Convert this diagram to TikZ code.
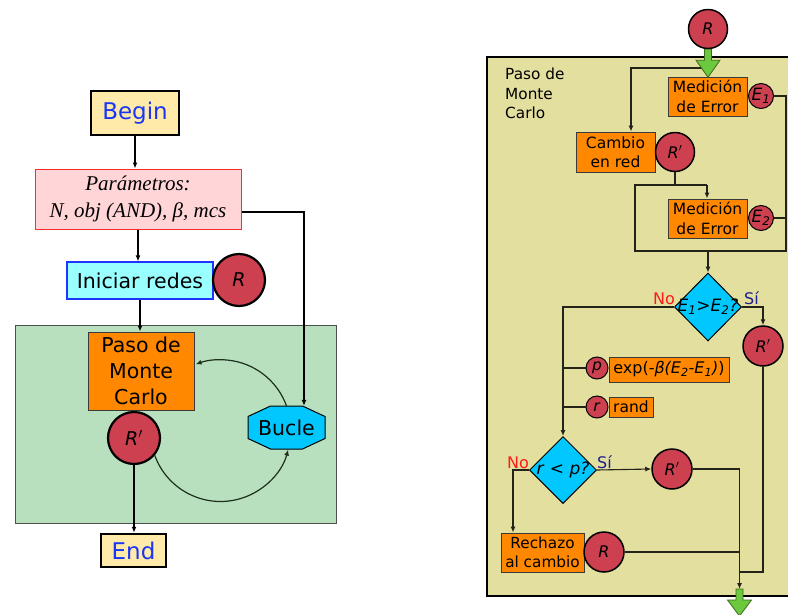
\documentclass[tikz,border=0pt]{standalone}
\usepackage{fontspec}
\setmainfont{DejaVu Sans}
\newfontfamily\paramfont{Liberation Serif}
\usetikzlibrary{shapes.geometric,arrows.meta,calc}

\definecolor{termfill}{HTML}{FFEAAA}
\definecolor{termblue}{HTML}{1A35F5}
\definecolor{parfill}{HTML}{FFD5D8}
\definecolor{parline}{HTML}{FF2A2A}
\definecolor{initfill}{HTML}{99FFFF}
\definecolor{initline}{HTML}{1F35FF}
\definecolor{netred}{HTML}{CC404F}
\definecolor{loopgreen}{HTML}{B8E0BF}
\definecolor{loopline}{HTML}{4A504A}
\definecolor{looparc}{HTML}{1C301C}
\definecolor{procorange}{HTML}{FF8800}
\definecolor{procline}{HTML}{3A3A3A}
\definecolor{hexblue}{HTML}{00C8FF}
\definecolor{khaki}{HTML}{E3DF9F}
\definecolor{flowline}{HTML}{23231A}
\definecolor{fatgreen}{HTML}{6CC83C}
\definecolor{fatline}{HTML}{3C6A1E}
\definecolor{noRed}{HTML}{FF1A1A}
\definecolor{siNavy}{HTML}{1E1E8C}

\newcommand{\sz}[2]{\fontsize{#1}{#2}\selectfont}
\newcommand{\Rpr}{\textit{R}$'$}
\newcommand{\Esub}[1]{\textit{E}\textsubscript{\textit{#1}}}

\begin{document}
\begin{tikzpicture}[x=1pt,y=-1pt,
  >={Latex[length=6pt,width=5pt]},
  conn/.style={draw=black,line width=1.2pt},
  arcconn/.style={draw=looparc,line width=1.2pt},
  flow/.style={draw=flowline,line width=1.1pt},
  termbox/.style={draw=black,line width=2.5pt,fill=termfill,text=termblue,
    font=\sz{23}{27},inner sep=0pt},
  procbox/.style={draw=procline,line width=1pt,fill=procorange,inner sep=0pt,
    align=center},
  netL/.style={circle,draw=black,line width=2.2pt,fill=netred,inner sep=0pt,
    minimum size=52pt,font=\sz{19}{22}},
  netR/.style={circle,draw=black,line width=1.5pt,fill=netred,inner sep=0pt,
    minimum size=39pt,font=\sz{16}{18}},
  netS/.style={circle,draw=black,line width=1pt,fill=netred,inner sep=0pt,
    minimum size=25pt,font=\sz{17}{18}},
  netXS/.style={circle,draw=black,line width=1pt,fill=netred,inner sep=0pt,
    minimum size=22pt,font=\sz{15.5}{17}},
  decision/.style={diamond,draw=black,line width=1pt,fill=hexblue,inner sep=0pt,
    minimum width=67pt,minimum height=68pt},
  fatarrow/.style={draw=fatline,line width=0.8pt,fill=fatgreen},
  nolabel/.style={text=noRed,font=\sz{16}{18}},
  silabel/.style={text=siNavy,font=\sz{16}{18}},
]
\useasboundingbox (0,0) rectangle (788,614);

% ---------------- overview flow ----------------
\node[termbox,minimum width=88pt,minimum height=44pt] (begin) at (135,113) {Begin};
\node[draw=parline,line width=1pt,fill=parfill,minimum width=206pt,minimum height=60pt,
  inner sep=0pt,align=center,font=\sz{21}{27}\paramfont\itshape] (param) at (138,199)
  {Parámetros:\\N, obj (AND), β, mcs};
\node[draw=initline,line width=1.2pt,fill=initfill,minimum width=146pt,minimum height=37pt,
  inner sep=0pt,font=\sz{20.5}{24}] (init) at (140,280.5) {Iniciar redes};
\node[netL] (rL) at (239,280) {\textit{R}};

\draw[draw=loopline,line width=1pt,fill=loopgreen] (15,325) rectangle (336,523);

\node[procbox,minimum width=106pt,minimum height=78pt,font=\sz{20.5}{26}] (paso) at (141,371)
  {Paso de\\Monte\\Carlo};
\node[netL] (rpL) at (134,438) {\Rpr};

% hexagonal loop marker
\coordinate (bc) at (286.5,427.5);
\draw[draw=black,line width=1pt,fill=hexblue]
  ($(bc)+(-16,-21.5)$) -- ($(bc)+(16,-21.5)$) -- ($(bc)+(38.5,-11)$) --
  ($(bc)+(38.5,11)$) -- ($(bc)+(16,21.5)$) -- ($(bc)+(-16,21.5)$) --
  ($(bc)+(-38.5,11)$) -- ($(bc)+(-38.5,-11)$) -- cycle;
\node[minimum width=77pt,minimum height=43pt,inner sep=0pt,font=\sz{20.5}{24}] (bucle) at (bc) {Bucle};

\node[termbox,minimum width=65pt,minimum height=33pt] (endn) at (133.5,550.5) {End};

\draw[conn,->] (begin.south) -- (begin.south |- param.north);
\draw[conn,->] (param.south) -- (param.south |- init.north);
\draw[conn,->] (init.south) -- (init.south |- paso.north);
\coordinate (pout) at ($(param.east)+(0,13)$);
\coordinate (bin) at ($(bucle.north)+(17.5,0)$);
\draw[conn,->] (pout) -| (bin);
\draw[arcconn,->] (bucle.north) arc[start angle=-20,end angle=-111,radius=70];
\draw[arcconn,->] (rpL.-40) arc[start angle=-200,end angle=-345,radius=70];
\draw[conn,->] (rpL.south) -- (rpL.south |- endn.north);

% ---------------- Monte Carlo step ----------------
\draw[draw=black,line width=1.3pt,fill=khaki] (487,57) rectangle (800,596);
\node[anchor=north west,align=left,inner sep=0pt,font=\sz{15.3}{19.5}] (steptitle) at (505,68)
  {Paso de\\Monte\\Carlo};

\node[netR] (rtop) at (708,29) {\textit{R}};
\node[procbox,minimum width=79pt,minimum height=39pt,font=\sz{15.5}{19.5}] (med1) at (707.5,96.5)
  {Medición\\de Error};
\node[netS] (e1) at (761,96) {\Esub{1}};
\node[procbox,minimum width=79pt,minimum height=40pt,font=\sz{15.5}{19.5}] (cambio) at (615.5,152)
  {Cambio\\en red};
\node[netR] (rp1) at (675,152) {\Rpr};
\node[procbox,minimum width=79pt,minimum height=39pt,font=\sz{15.5}{19.5}] (med2) at (707.5,218.5)
  {Medición\\de Error};
\node[netS] (e2) at (761,218) {\Esub{2}};

% branch into the network change
\coordinate (tsplit) at (708,68);
\coordinate (tleft) at (631,68);
\draw[flow,->] (tsplit) -- (tleft) -- (tleft |- cambio.north);

% error bracket around the second measurement
\coordinate (brTR) at (786,96);
\coordinate (brBR) at (786,251);
\coordinate (brBL) at (635,251);
\coordinate (brTL) at (635,185);
\coordinate (brTM) at (707,185);
\coordinate (brOut) at (708,251);
\draw[flow] (e1.east) -- (brTR) -- (brBR) -- (brBL) -- (brTL) -- (brTM);
\draw[flow,->] (brTM) -- (brTM |- med2.north);
\draw[flow] (rp1.south) -- (rp1.south |- brTL);
\draw[flow] (e2.east) -- (e2.east -| brTR);

% input arrow
\draw[fatarrow] (rtop.south) ++(-3.5,0) -- ++(0,11) -- ++(-8.5,0) -- ++(12,17)
  -- ++(12,-17) -- ++(-8.5,0) -- ++(0,-11) -- cycle;

% first decision
\node[decision] (d1) at (708,307) {};
\node[font=\sz{17}{18},inner sep=0pt] (d1t) at (d1.center) {\Esub{1}\textit{>}\Esub{2}\textit{?}};
\node[nolabel,anchor=base east,inner sep=0pt] (d1no) at ($(d1.west)+(1,-3)$) {No};
\node[silabel,anchor=base west,inner sep=0pt] (d1si) at ($(d1.east)+(2,-3)$) {Sí};
\draw[flow,->] (brOut) -- (d1.north);

\node[netR,minimum size=40pt] (rp2) at (763,346) {\Rpr};
\coordinate (d1r) at (763,307);
\draw[flow,->] (d1.east) -- (d1r) -- (rp2.north);

% acceptance probability
\node[netXS] (pc) at (597,368) {\textit{p}};
\node[procbox,minimum width=120pt,minimum height=25pt,font=\sz{16}{18}] (expb) at (669,369.5)
  {exp(-\textit{β(E}\textsubscript{\textit{2}}\textit{-E}\textsubscript{\textit{1}}\textit{)})};
\node[netXS] (rc) at (597,407) {\textit{r}};
\node[procbox,minimum width=44pt,minimum height=20pt,font=\sz{15.5}{18}] (randb) at (631,407)
  {rand};

% second decision
\node[decision,minimum height=67pt] (d2) at (563,470) {};
\node[font=\sz{17}{18},inner sep=0pt] (d2t) at (d2.center) {\textit{r} \textit{<} \textit{p?}};
\node[nolabel,anchor=base east,inner sep=0pt] (d2no) at ($(d2.west)+(0,-2)$) {No};
\node[silabel,anchor=base west,inner sep=0pt] (d2si) at ($(d2.east)+(0,-2)$) {Sí};

\coordinate (d1l) at (563,307);
\draw[flow,->] (d1.west) -- (d1l) -- (d2.north);
\draw[flow] (pc.west -| d1l) -- (pc.west);
\draw[flow] (rc.west -| d1l) -- (rc.west);

\node[netR,minimum size=40pt] (rp3) at (672,469) {\Rpr};
\draw[flow,->] (d2.east) -- (rp3.west);

\node[procbox,minimum width=83pt,minimum height=39pt,font=\sz{15.3}{19.5}] (rech) at (542.5,552.5)
  {Rechazo\\al cambio};
\node[netR,minimum size=40pt] (rR) at (604,552) {\textit{R}};
\coordinate (d2l) at (513,470);
\draw[flow,->] (d2.west) -- (d2l) -- (d2l |- rech.north);

% collecting the three outcomes
\coordinate (jtop) at (739.5,469);
\coordinate (jbot) at (739.5,589);
\coordinate (jr) at (763,572);
\draw[flow] (rp3.east) -- (jtop);
\draw[flow,->] (jtop) -- (jbot);
\draw[flow] (rR.east) -- (rR.east -| jtop);
\draw[flow] (rp2.south) -- (jr) -- (jr -| jtop);

% output arrow
\draw[fatarrow] (jbot) ++(-3.5,0) -- ++(0,11) -- ++(-8.5,0) -- ++(12,16)
  -- ++(12,-16) -- ++(-8.5,0) -- ++(0,-11) -- cycle;
\end{tikzpicture}
\end{document}
